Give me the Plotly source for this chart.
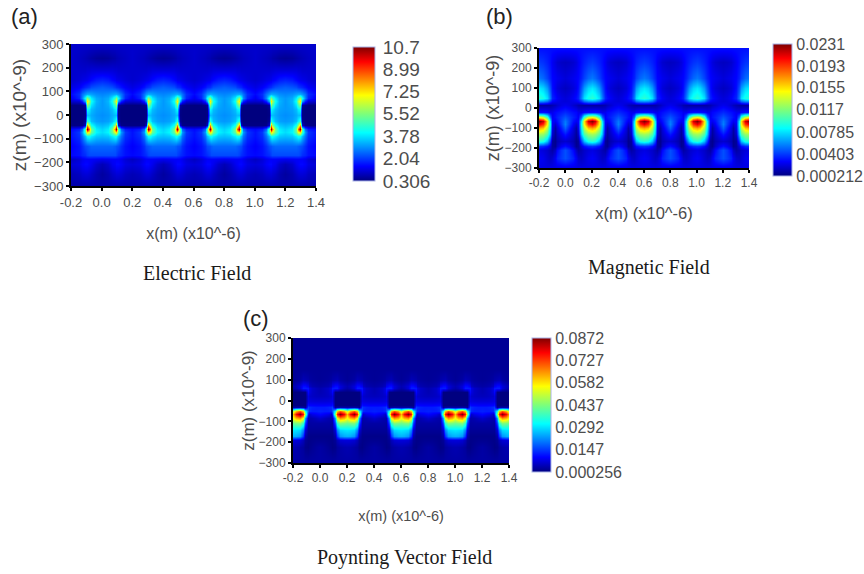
import plotly.graph_objects as go

W, H = 864, 574
GAP_CENTRES = [0.0, 0.4, 0.8, 1.2]
X_TICKS = [-0.2, 0.0, 0.2, 0.4, 0.6, 0.8, 1.0, 1.2, 1.4]
X_LABELS = ["-0.2", "0.0", "0.2", "0.4", "0.6", "0.8", "1.0", "1.2", "1.4"]
Z_TICKS = [300, 200, 100, 0, -100, -200, -300]
X_TITLE = "x(m) (x10^-6)"
Z_TITLE = "z(m) (x10^-9)"

# Field readings over one half period (distance from the gap centre, um); rows are z (nm)
E_COLS = [0, .04, .07, .085, .095, .11, .125, .15, .2]
E_ROWS = [300, 240, 190, 150, 120, 90, 70, 58, 42, 25, 0, -25, -42, -58, -72, -90, -130, -168, -185, -205, -250, -300]
E_VALUES = [
    [1.0, 1.0, 1.0, 1.0, 1.0, 1.0, 1.0, 1.0, 1.0],
    [.5, .55, .65, .7, .75, .8, .85, .9, 1.0],
    [1.1, 1.1, 1.1, 1.05, 1.05, 1.0, 1.0, 1.0, 1.0],
    [1.8, 1.7, 1.5, 1.4, 1.3, 1.25, 1.2, 1.1, 1.0],
    [2.4, 2.3, 2.2, 2.0, 1.9, 1.8, 1.6, 1.4, 1.2],
    [2.8, 2.9, 3.1, 3.2, 3.2, 3.0, 2.6, 1.9, 1.5],
    [3.0, 3.2, 3.9, 4.8, 5.6, 4.2, 2.8, 1.8, 1.3],
    [3.0, 3.3, 4.2, 6.0, 7.2, 3.2, 1.8, 1.1, 1.0],
    [3.0, 3.2, 3.8, 4.8, 5.6, .6, .4, .32, .31],
    [3.0, 3.1, 3.4, 3.9, 4.1, .4, .31, .31, .31],
    [2.9, 3.0, 3.2, 3.4, 3.4, .35, .31, .31, .31],
    [3.0, 3.1, 3.4, 4.0, 4.6, .5, .31, .31, .31],
    [3.3, 3.5, 4.2, 5.8, 7.8, 1.0, .4, .35, .35],
    [3.6, 3.9, 5.4, 8.6, 10.7, 5.0, 2.5, 1.7, 1.5],
    [3.7, 4.0, 5.2, 6.8, 7.4, 4.8, 3.0, 2.0, 1.6],
    [3.4, 3.5, 3.9, 4.2, 4.1, 3.4, 2.6, 1.9, 1.6],
    [2.5, 2.5, 2.5, 2.4, 2.3, 2.2, 1.9, 1.6, 1.4],
    [2.2, 2.2, 2.2, 2.2, 2.1, 1.9, 1.8, 1.6, 1.5],
    [1.3, 1.35, 1.4, 1.4, 1.4, 1.4, 1.3, 1.1, .9],
    [.8, 1.0, 1.3, 1.4, 1.5, 1.5, 1.4, 1.2, 1.1],
    [.6, .75, .95, 1.05, 1.1, 1.1, 1.05, .9, .8],
    [.7, .7, .7, .7, .7, .7, .7, .7, .7],
]

H_COLS = [0, .03, .06, .08, .1, .12, .14, .17, .2]
H_ROWS = [300, 230, 150, 100, 50, 35, 15, -20, -45, -65, -80, -100, -130, -165, -190, -210, -250, -300]
H_VALUES = [
    [.0030, .0030, .0030, .0030, .0030, .0030, .0030, .0030, .0030],
    [.0015, .0016, .0018, .0021, .0025, .0030, .0034, .0038, .0040],
    [.0020, .0022, .0024, .0026, .0028, .0034, .0042, .0050, .0054],
    [.0015, .0017, .0020, .0024, .0030, .0045, .0062, .0075, .0080],
    [.0020, .0022, .0026, .0030, .0035, .0055, .0078, .0090, .0095],
    [.0020, .0021, .0023, .0025, .0028, .0038, .0052, .0060, .0062],
    [.0024, .0022, .0018, .0015, .0012, .0010, .0009, .0009, .0009],
    [.0036, .0033, .0030, .0028, .0024, .0024, .0028, .0030, .0030],
    [.0046, .0040, .0034, .0030, .0026, .0050, .0100, .0135, .0145],
    [.0054, .0042, .0030, .0025, .0028, .0080, .0155, .0215, .0231],
    [.0056, .0040, .0026, .0018, .0026, .0085, .0150, .0195, .0210],
    [.0048, .0033, .0020, .0010, .0024, .0080, .0130, .0160, .0168],
    [.0032, .0024, .0016, .0008, .0018, .0070, .0105, .0122, .0126],
    [.0018, .0016, .0012, .0005, .0008, .0040, .0070, .0090, .0095],
    [.0030, .0025, .0016, .0006, .0008, .0020, .0030, .0036, .0038],
    [.0045, .0038, .0028, .0016, .0010, .0013, .0017, .0020, .0022],
    [.0045, .0040, .0034, .0025, .0018, .0016, .0019, .0024, .0026],
    [.0022, .0022, .0022, .0022, .0022, .0022, .0022, .0022, .0022],
]

S_COLS = [0, .03, .06, .08, .09, .11, .125, .15, .175, .2]
S_ROWS = [300, 150, 100, 72, 60, 42, 20, 0, -20, -32, -50, -64, -85, -110, -140, -170, -190, -225, -300]
S_VALUES = [
    [.0020, .0020, .0020, .0020, .0020, .0020, .0020, .0020, .0020, .0020],
    [.0020, .0020, .0020, .0020, .0020, .0020, .0020, .0020, .0020, .0020],
    [.0020, .0022, .0025, .0030, .0036, .0042, .0045, .0030, .0024, .0020],
    [.0030, .0034, .0040, .0055, .0085, .0105, .0105, .0070, .0050, .0040],
    [.0040, .0048, .0058, .0080, .0115, .0120, .0120, .0070, .0045, .0035],
    [.0042, .0048, .0056, .0075, .0100, .0006, .0004, .0003, .0003, .0003],
    [.0048, .0050, .0054, .0060, .0075, .0004, .0003, .0003, .0003, .0003],
    [.0068, .0068, .0070, .0074, .0078, .0003, .0003, .0003, .0003, .0003],
    [.0095, .0095, .0098, .0100, .0110, .0004, .0003, .0003, .0003, .0003],
    [.0120, .0120, .0125, .0135, .0150, .0020, .0030, .0035, .0035, .0035],
    [.0125, .0120, .0120, .0130, .0170, .0340, .0600, .0700, .0620, .0500],
    [.0100, .0090, .0080, .0060, .0110, .0450, .0760, .0872, .0780, .0620],
    [.0060, .0050, .0040, .0036, .0040, .0240, .0550, .0650, .0620, .0550],
    [.0030, .0030, .0030, .0028, .0028, .0160, .0360, .0440, .0430, .0420],
    [.0020, .0020, .0020, .0020, .0020, .0070, .0210, .0280, .0290, .0295],
    [.0010, .0010, .0010, .0010, .0010, .0035, .0140, .0225, .0245, .0250],
    [.0015, .0015, .0012, .0010, .0010, .0020, .0045, .0065, .0070, .0070],
    [.0030, .0025, .0018, .0012, .0008, .0012, .0025, .0032, .0038, .0040],
    [.0030, .0030, .0030, .0030, .0030, .0030, .0030, .0030, .0030, .0030],
]

E_BAR = ["0.306", "2.04", "3.78", "5.52", "7.25", "8.99", "10.7"]
H_BAR = ["0.000212", "0.00403", "0.00785", "0.0117", "0.0155", "0.0193", "0.0231"]
S_BAR = ["0.000256", "0.0147", "0.0292", "0.0437", "0.0582", "0.0727", "0.0872"]

JET = [[0, "#00007f"], [.11, "#0000ff"], [.36, "#00ffff"], [.5, "#7dff7a"],
       [.64, "#ffff00"], [.89, "#ff0000"], [1, "#7f0000"]]
TEXT = "#4d4d4d"
SANS = "Liberation Sans, Arial, sans-serif"
SERIF = "Liberation Serif, Times New Roman, serif"


def tile(cols, values):
    """Repeat a half-period table across the gap centres of the grating."""
    xs, picks = [], []
    for k, c in enumerate(GAP_CENTRES):
        for i in range(len(cols) - 1, 0, -1):
            if k == 0 or i != len(cols) - 1:
                xs.append(round(c - cols[i], 4))
                picks.append(i)
        for i in range(len(cols)):
            xs.append(round(c + cols[i], 4))
            picks.append(i)
    return xs, [[row[i] for i in picks] for row in values]


PANELS = [
    dict(cols=E_COLS, rows=E_ROWS, vals=E_VALUES, bar=E_BAR, box=(71, 316, 44, 186), cb=(353, 22, 47, 181),
         tick=13, bar_font=19, xt=16, yt=19, xs=19, ys=2, gap=4),
    dict(cols=H_COLS, rows=H_ROWS, vals=H_VALUES, bar=H_BAR, box=(539, 749, 48, 168), cb=(773, 19, 44, 176),
         tick=12, bar_font=16, xt=16.5, yt=18, xs=18, ys=0, gap=1),
    dict(cols=S_COLS, rows=S_ROWS, vals=S_VALUES, bar=S_BAR, box=(293, 509, 338, 463), cb=(532, 19, 338, 472),
         tick=12, bar_font=16, xt=14.5, yt=17, xs=26, ys=0, gap=1),
]

fig = go.Figure()
layout = {}
for n, p in enumerate(PANELS, start=1):
    x0, x1, y0, y1 = p["box"]
    cx, cw, cy0, cy1 = p["cb"]
    xs, zs = tile(p["cols"], p["vals"])
    bar_vals = [float(v) for v in p["bar"]]
    fig.add_trace(go.Heatmap(
        x=xs, y=p["rows"], z=zs, xaxis=f"x{n}", yaxis=f"y{n}",
        zsmooth="best", colorscale=JET, zmin=bar_vals[0], zmax=bar_vals[-1],
        colorbar=dict(
            x=cx / W, xanchor="left", xref="paper", xpad=0, ypad=0,
            y=1 - cy1 / H, yanchor="bottom", yref="paper",
            thickness=cw, thicknessmode="pixels", len=(cy1 - cy0) / H, lenmode="fraction",
            tickvals=bar_vals, ticktext=p["bar"], ticks="outside", ticklen=p["gap"], tickcolor="rgba(0,0,0,0)",
            tickfont=dict(family=SANS, size=p["bar_font"], color=TEXT),
            outlinecolor="#aab4e8", outlinewidth=1,
        ),
    ))
    layout[f"xaxis{n}"] = dict(
        domain=[x0 / W, x1 / W], range=[-0.2, 1.4], anchor=f"y{n}", automargin=False,
        tickvals=X_TICKS, ticktext=X_LABELS, ticks="outside", ticklen=3, tickwidth=2, tickcolor="black",
        showline=True, linecolor="black", linewidth=2, showgrid=False, zeroline=False,
        tickfont=dict(family=SANS, size=p["tick"], color=TEXT),
        title=dict(text=X_TITLE, standoff=p["xs"], font=dict(family=SANS, size=p["xt"], color=TEXT)),
    )
    layout[f"yaxis{n}"] = dict(
        domain=[1 - y1 / H, 1 - y0 / H], range=[-300, 300], anchor=f"x{n}", automargin=False,
        tickvals=Z_TICKS, ticks="outside", ticklen=3, tickwidth=2, tickcolor="black",
        showline=True, linecolor="black", linewidth=2, showgrid=False, zeroline=False,
        tickfont=dict(family=SANS, size=p["tick"], color=TEXT),
        title=dict(text=Z_TITLE, standoff=p["ys"], font=dict(family=SANS, size=p["yt"], color=TEXT)),
    )

NOTES = [("(a)", 24, 17, SANS, 22, "#222222"), ("(b)", 499, 17, SANS, 22, "#222222"), ("(c)", 256, 318, SANS, 22, "#222222"),
         ("Electric Field", 197, 273, SERIF, 20, "#1a1a1a"), ("Magnetic Field", 649, 267, SERIF, 20, "#1a1a1a"),
         ("Poynting Vector Field", 404, 557, SERIF, 20, "#1a1a1a")]
fig.update_layout(
    width=W, height=H, autosize=False, margin=dict(l=0, r=0, t=0, b=0, autoexpand=False),
    paper_bgcolor="white", plot_bgcolor="white",
    annotations=[dict(text=t, x=ax / W, y=1 - ay / H, xref="paper", yref="paper", xanchor="center", yanchor="middle",
                      showarrow=False, font=dict(family=f, size=s, color=c)) for t, ax, ay, f, s, c in NOTES],
    **layout,
)
fig.write_html("out.html", config=dict(displayModeBar=False), post_script="document.body.style.margin='0';")
